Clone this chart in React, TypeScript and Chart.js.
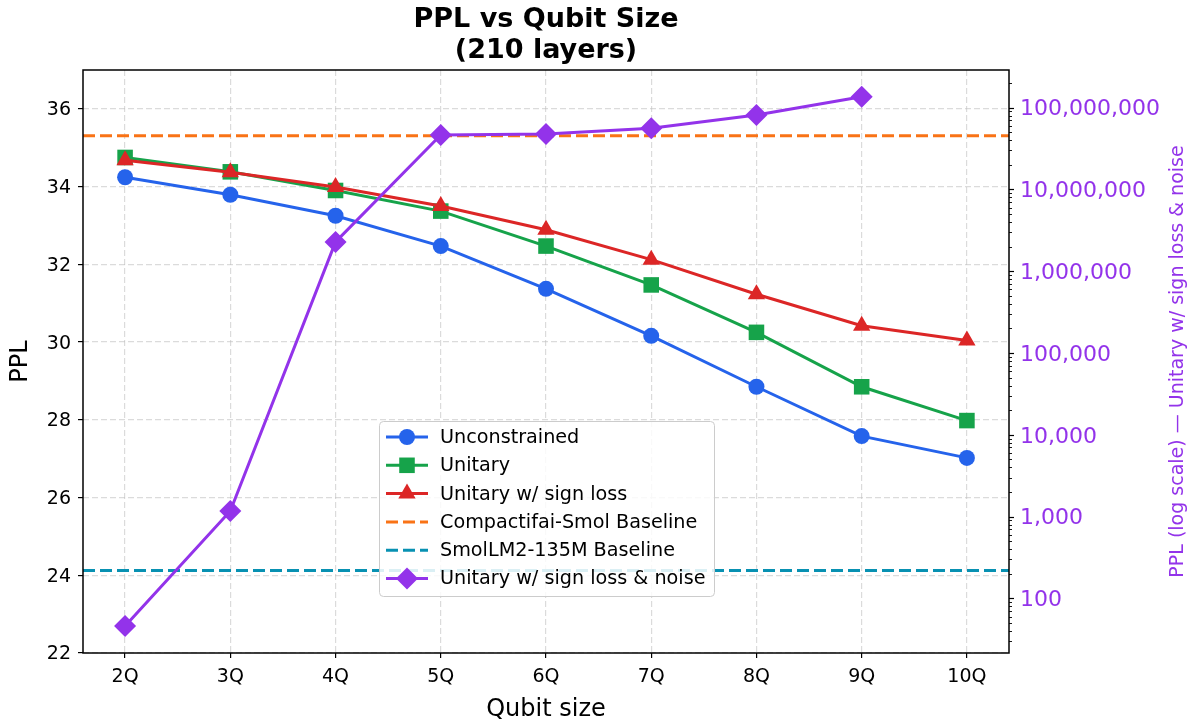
import React, { useEffect, useRef } from 'react';
import { Chart, registerables } from 'chart.js';

Chart.register(...registerables);

// ---------------- data ----------------
const categories = ['2Q', '3Q', '4Q', '5Q', '6Q', '7Q', '8Q', '9Q', '10Q'];
const unconstrained = [34.24, 33.79, 33.25, 32.47, 31.37, 30.16, 28.85, 27.58, 27.02];
const unitary = [34.75, 34.38, 33.9, 33.37, 32.47, 31.47, 30.25, 28.85, 27.98];
const unitarySignLoss = [34.68, 34.37, 33.99, 33.5, 32.89, 32.12, 31.23, 30.42, 30.04];
const unitarySignLossNoise = [46, 1170, 2.28e6, 4.62e7, 4.75e7, 5.58e7, 8.13e7, 1.36e8, null];
const compactifaiBaseline = 35.31;
const smolBaseline = 24.12;
const leftTicks = [22, 24, 26, 28, 30, 32, 34, 36];
const rightTicks = [100, 1000, 10000, 100000, 1000000, 10000000, 100000000];

const X_MIN = -0.4;
const X_MAX = 8.4;
const LEFT_MIN = 22;
const LEFT_MAX = 37;
const RIGHT_MIN = 21.5;
const RIGHT_MAX = 2.88e8;

// ---------------- styles ----------------
const FONT = '"DejaVu Sans", "Liberation Sans", sans-serif';
const BLUE = '#2563eb';
const GREEN = '#16a34a';
const RED = '#dc2626';
const PURPLE = '#9333ea';
const ORANGE = '#f97316';
const TEAL = '#0891b2';
const GRID = 'rgba(190,190,190,0.55)';

const toPoints = (arr: (number | null)[]) => arr.map((v, i) => ({ x: i, y: v }));
const fmt = (v: number) => String(Math.round(v)).replace(/\B(?=(\d{3})+(?!\d))/g, ',');

type Marker = 'circle' | 'rect' | 'triangle' | 'rectRot' | 'none';

function drawMarker(ctx: CanvasRenderingContext2D, style: Marker, x: number, y: number, r: number, color: string) {
  if (style === 'none') return;
  ctx.save();
  ctx.fillStyle = color;
  ctx.beginPath();
  if (style === 'circle') {
    ctx.arc(x, y, r, 0, Math.PI * 2);
  } else if (style === 'rect') {
    const s = Math.SQRT1_2 * r;
    ctx.rect(x - s, y - s, 2 * s, 2 * s);
  } else if (style === 'triangle') {
    let rad = 0;
    ctx.moveTo(x + Math.sin(rad) * r, y - Math.cos(rad) * r);
    rad += (2 * Math.PI) / 3;
    ctx.lineTo(x + Math.sin(rad) * r, y - Math.cos(rad) * r);
    rad += (2 * Math.PI) / 3;
    ctx.lineTo(x + Math.sin(rad) * r, y - Math.cos(rad) * r);
    ctx.closePath();
  } else if (style === 'rectRot') {
    ctx.moveTo(x - r, y);
    ctx.lineTo(x, y - r);
    ctx.lineTo(x + r, y);
    ctx.lineTo(x, y + r);
    ctx.closePath();
  }
  ctx.fill();
  ctx.restore();
}

const legendItems: { label: string; color: string; marker: Marker; r: number; dash: number[] }[] = [
  { label: 'Unconstrained', color: BLUE, marker: 'circle', r: 8, dash: [] },
  { label: 'Unitary', color: GREEN, marker: 'rect', r: 11, dash: [] },
  { label: 'Unitary w/ sign loss', color: RED, marker: 'triangle', r: 10, dash: [] },
  { label: 'Compactifai-Smol Baseline', color: ORANGE, marker: 'none', r: 0, dash: [12, 5] },
  { label: 'SmolLM2-135M Baseline', color: TEAL, marker: 'none', r: 0, dash: [12, 5] },
  { label: 'Unitary w/ sign loss & noise', color: PURPLE, marker: 'rectRot', r: 11, dash: [] },
];

const overlayPlugin = {
  id: 'overlay',
  afterDraw(chart: any) {
    const { ctx, chartArea: ca, scales } = chart;
    ctx.save();

    // right axis ticks (major + minor)
    const y1 = scales.y1;
    ctx.strokeStyle = '#000';
    for (let e = Math.floor(Math.log10(RIGHT_MIN)); e <= Math.ceil(Math.log10(RIGHT_MAX)); e++) {
      for (let m = 1; m < 10; m++) {
        const v = m * Math.pow(10, e);
        if (v < RIGHT_MIN || v > RIGHT_MAX) continue;
        const py = Math.round(y1.getPixelForValue(v)) + 0.5;
        ctx.beginPath();
        ctx.lineWidth = m === 1 ? 1.2 : 0.9;
        ctx.moveTo(ca.right, py);
        ctx.lineTo(ca.right + (m === 1 ? 5 : 3), py);
        ctx.stroke();
      }
    }

    // frame
    ctx.lineWidth = 1.5;
    ctx.strokeStyle = '#000';
    ctx.strokeRect(ca.left, ca.top, ca.right - ca.left, ca.bottom - ca.top);

    const cx = (ca.left + ca.right) / 2;
    const cy = (ca.top + ca.bottom) / 2;

    // title
    ctx.fillStyle = '#000';
    ctx.textAlign = 'center';
    ctx.textBaseline = 'alphabetic';
    ctx.font = `bold 27px ${FONT}`;
    ctx.fillText('PPL vs Qubit Size', cx, 27);
    ctx.fillText('(210 layers)', cx, 58);

    // x axis title
    ctx.font = `24px ${FONT}`;
    ctx.fillText('Qubit size', cx, 716);

    // left axis title
    ctx.save();
    ctx.translate(27, cy);
    ctx.rotate(-Math.PI / 2);
    ctx.fillText('PPL', 0, 0);
    ctx.restore();

    // right axis title
    ctx.save();
    ctx.translate(1183, cy);
    ctx.rotate(-Math.PI / 2);
    ctx.fillStyle = PURPLE;
    ctx.font = `19px ${FONT}`;
    ctx.fillText('PPL (log scale) \u2014 Unitary w/ sign loss & noise', 0, 0);
    ctx.restore();

    // legend
    const lx = 379, ly = 421, lw = 335, lh = 175;
    ctx.beginPath();
    if (ctx.roundRect) ctx.roundRect(lx + 0.5, ly + 0.5, lw, lh, 4);
    else ctx.rect(lx + 0.5, ly + 0.5, lw, lh);
    ctx.fillStyle = 'rgba(255,255,255,0.85)';
    ctx.fill();
    ctx.strokeStyle = '#cccccc';
    ctx.lineWidth = 1;
    ctx.stroke();

    ctx.font = `19.2px ${FONT}`;
    ctx.textAlign = 'left';
    ctx.textBaseline = 'middle';
    legendItems.forEach((it, i) => {
      const ry = 437 + i * 28.3;
      ctx.save();
      ctx.strokeStyle = it.color;
      ctx.lineWidth = 3;
      ctx.setLineDash(it.dash);
      ctx.beginPath();
      ctx.moveTo(386, ry);
      ctx.lineTo(428, ry);
      ctx.stroke();
      ctx.restore();
      drawMarker(ctx, it.marker, 407, ry, it.r, it.color);
      ctx.fillStyle = '#000';
      ctx.fillText(it.label, 440, ry + 1);
    });

    ctx.restore();
  },
};

export default function App() {
  const canvasRef = useRef<HTMLCanvasElement | null>(null);

  useEffect(() => {
    if (!canvasRef.current) return;
    Chart.defaults.font.family = FONT;

    const lineDs = (label: string, data: (number | null)[], color: string, pointStyle: string, r: number, order: number, axis = 'y') => ({
      label,
      data: toPoints(data),
      yAxisID: axis,
      borderColor: color,
      backgroundColor: color,
      borderWidth: 3,
      pointStyle,
      pointRadius: r,
      pointHoverRadius: r,
      pointBackgroundColor: color,
      pointBorderColor: color,
      pointBorderWidth: 0,
      tension: 0,
      spanGaps: false,
      order,
    });

    const baseDs = (label: string, value: number, color: string, order: number) => ({
      label,
      data: [{ x: X_MIN, y: value }, { x: X_MAX, y: value }],
      yAxisID: 'y',
      borderColor: color,
      backgroundColor: color,
      borderWidth: 3,
      borderDash: [12, 5],
      pointRadius: 0,
      pointHoverRadius: 0,
      order,
    });

    const chart = new Chart(canvasRef.current, {
      type: 'line',
      data: {
        datasets: [
          lineDs('Unconstrained', unconstrained, BLUE, 'circle', 8, 4),
          lineDs('Unitary', unitary, GREEN, 'rect', 11, 3),
          lineDs('Unitary w/ sign loss', unitarySignLoss, RED, 'triangle', 10, 2),
          baseDs('Compactifai-Smol Baseline', compactifaiBaseline, ORANGE, 5),
          baseDs('SmolLM2-135M Baseline', smolBaseline, TEAL, 6),
          lineDs('Unitary w/ sign loss & noise', unitarySignLossNoise, PURPLE, 'rectRot', 11, 0, 'y1'),
        ] as any,
      },
      options: {
        responsive: false,
        animation: false,
        devicePixelRatio: 1,
        layout: { padding: { top: 70, left: 0, right: 0, bottom: 0 } },
        plugins: {
          legend: { display: false },
          title: { display: false },
          tooltip: { enabled: false },
        },
        events: [],
        scales: {
          x: {
            type: 'linear',
            min: X_MIN,
            max: X_MAX,
            afterBuildTicks: (s: any) => {
              s.ticks = categories.map((_, i) => ({ value: i }));
            },
            afterFit: (s: any) => {
              s.height = 71;
            },
            ticks: {
              callback: (v: any) => categories[v as number],
              font: { size: 19 },
              color: '#000',
              padding: 8,
              autoSkip: false,
              maxRotation: 0,
            },
            grid: {
              color: GRID,
              lineWidth: 1.2,
              tickLength: 5,
              tickColor: '#000',
              tickWidth: 1.2,
            },
            border: { display: false, dash: [6, 3] },
          },
          y: {
            type: 'linear',
            position: 'left',
            min: LEFT_MIN,
            max: LEFT_MAX,
            afterBuildTicks: (s: any) => {
              s.ticks = leftTicks.map((v) => ({ value: v }));
            },
            afterFit: (s: any) => {
              s.width = 83;
            },
            ticks: {
              font: { size: 19 },
              color: '#000',
              padding: 7,
              labelOffset: 1.5,
              callback: (v: any) => String(v),
            },
            grid: {
              color: GRID,
              lineWidth: 1.2,
              tickLength: 5,
              tickColor: '#000',
              tickWidth: 1.2,
            },
            border: { display: false, dash: [6, 3] },
          },
          y1: {
            type: 'logarithmic',
            position: 'right',
            min: RIGHT_MIN,
            max: RIGHT_MAX,
            afterBuildTicks: (s: any) => {
              s.ticks = rightTicks.map((v) => ({ value: v, major: true }));
            },
            afterFit: (s: any) => {
              s.width = 186;
            },
            ticks: {
              font: { size: 22 },
              color: PURPLE,
              padding: 11,
              labelOffset: 2,
              autoSkip: false,
              callback: (v: any) => fmt(Number(v)),
            },
            grid: { display: false, drawTicks: false, drawOnChartArea: false },
            border: { display: false },
          },
        },
      } as any,
      plugins: [overlayPlugin],
    });

    return () => chart.destroy();
  }, []);

  return (
    <div style={{ position: 'absolute', left: 0, top: 0, width: 1195, height: 724, background: '#fff' }}>
      <canvas ref={canvasRef} width={1195} height={724} style={{ width: 1195, height: 724, display: 'block' }} />
    </div>
  );
}
